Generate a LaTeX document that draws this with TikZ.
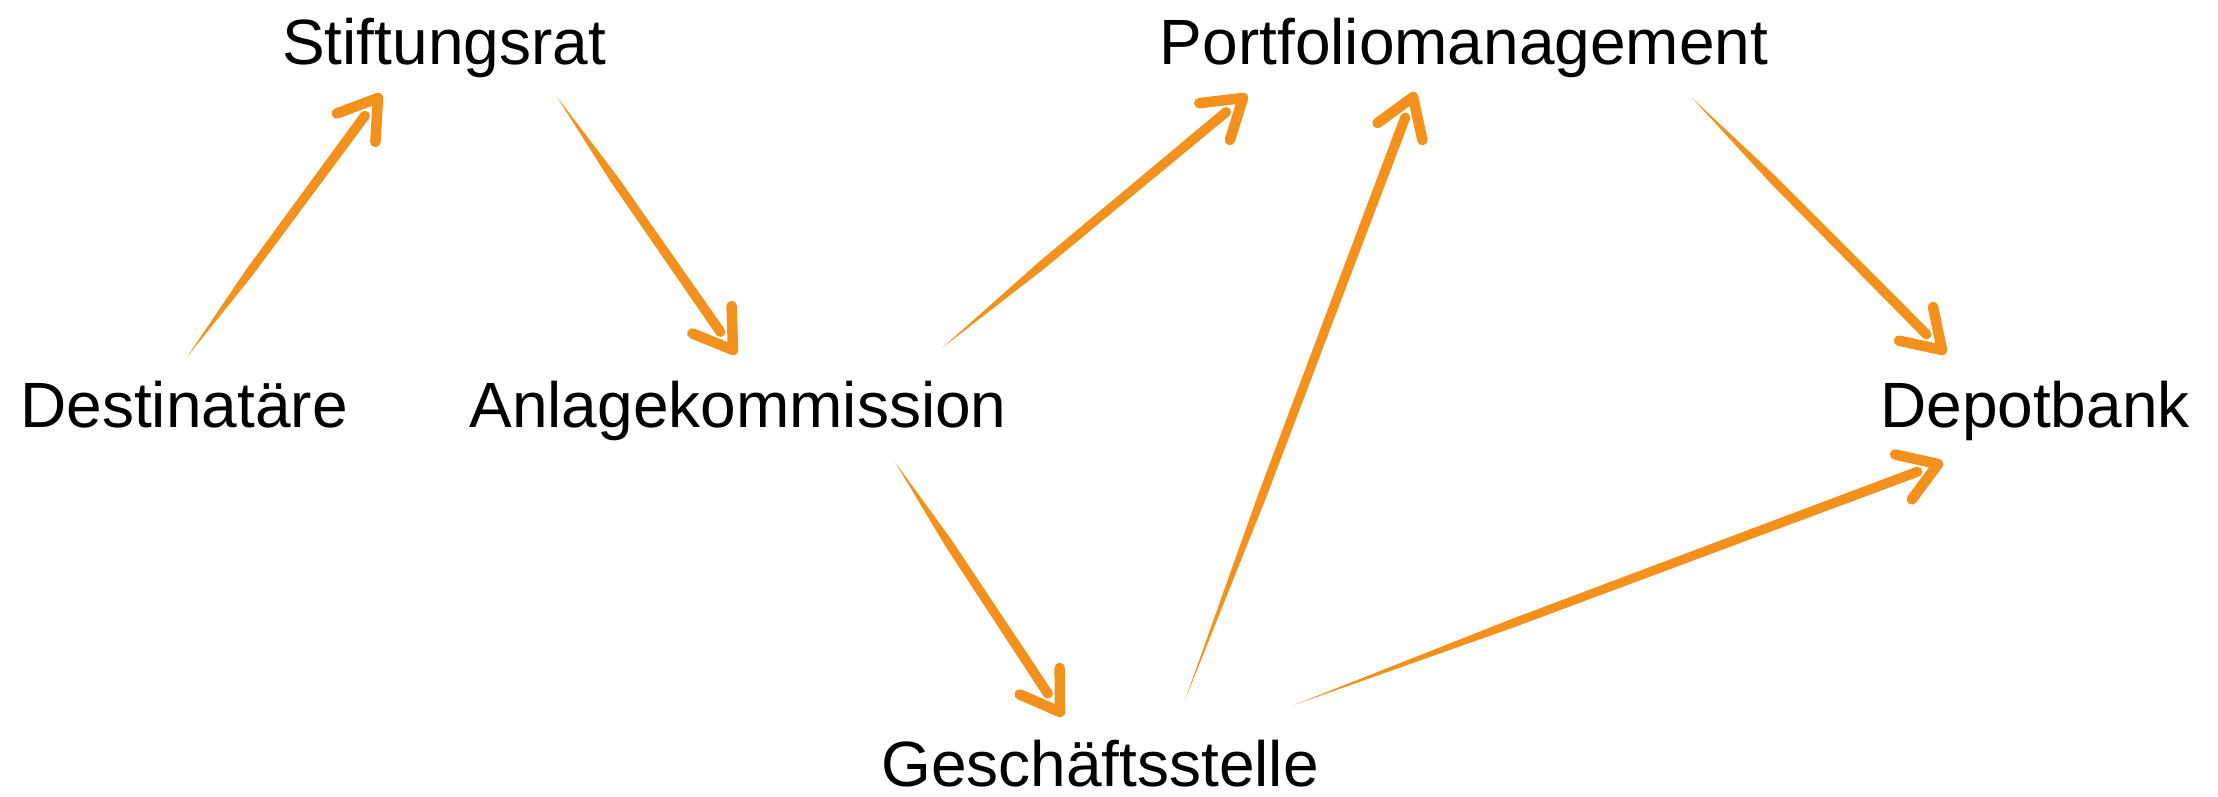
\documentclass[tikz,border=0pt]{standalone}
\usepackage{fontspec}
\setmainfont{Liberation Sans}
\usetikzlibrary{calc}
\definecolor{brushorange}{RGB}{243,145,28}
\tikzset{
  label text/.style={anchor=base, inner sep=0pt, font=\fontsize{64}{70}\selectfont, text=black},
  brush/.style={fill=brushorange},
  brushhead/.style={draw=brushorange, line width=10.5pt, line cap=round, line join=round},
}
\newcommand\brusharrow[2]{%
  \coordinate (bS) at ($(#2)!22pt!(#1)$);
  \coordinate (bM) at ($(#1)!0.35!(bS)$);
  \fill[brush] (#1) -- ($(bM)!4.3pt!90:(bS)$) -- ($(bS)!5pt!90:(#2)$)
     -- ($(bS)!5pt!-90:(#2)$) -- ($(bM)!4.3pt!-90:(bS)$) -- cycle;
  \fill[brush] (bS) circle[radius=5pt];
  \draw[brushhead] ($(#2)!44pt!33:(#1)$) -- (#2) -- ($(#2)!44pt!-33:(#1)$);
}
\begin{document}
\begin{tikzpicture}[x=1pt,y=-1pt]
  \useasboundingbox (0,0) rectangle (2218,797);
  % labels
  \node[label text] (sr) at (444,65) {Stiftungsrat};
  \node[label text] (pm) at (1464,65) {Portfoliomanagement};
  \node[label text] (de) at (184,427) {Destinatäre};
  \node[label text] (ak) at (738,427) {Anlagekommission};
  \node[label text] (db) at (2035,427) {Depotbank};
  \node[label text] (gs) at (1100,786) {Geschäftsstelle};
  % connector end points
  \coordinate (t1) at (187,357);  \coordinate (p1) at (378,98);
  \coordinate (t2) at (557,97);   \coordinate (p2) at (733,350);
  \coordinate (t3) at (942,348);  \coordinate (p3) at (1243,98);
  \coordinate (t4) at (1185,700); \coordinate (p4) at (1413,97);
  \coordinate (t5) at (1692,98);  \coordinate (p5) at (1942,350);
  \coordinate (t6) at (895,462);  \coordinate (p6) at (1060,712);
  \coordinate (t7) at (1294,705); \coordinate (p7) at (1938,464);
  % connectors
  \brusharrow{t1}{p1}
  \brusharrow{t2}{p2}
  \brusharrow{t3}{p3}
  \brusharrow{t4}{p4}
  \brusharrow{t5}{p5}
  \brusharrow{t6}{p6}
  \brusharrow{t7}{p7}
\end{tikzpicture}
\end{document}
